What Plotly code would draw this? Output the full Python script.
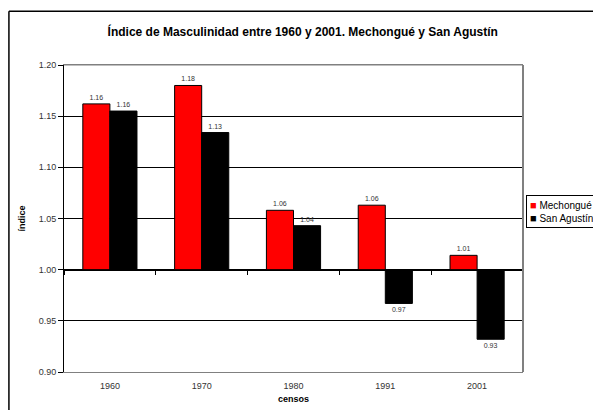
import plotly.graph_objects as go

censos = ["1960", "1970", "1980", "1991", "2001"]
mechongue = [1.162, 1.180, 1.058, 1.063, 1.014]
san_agustin = [1.155, 1.134, 1.043, 0.967, 0.932]
y_ticks = [0.90, 0.95, 1.00, 1.05, 1.10, 1.15, 1.20]
series = [("Mechongué", mechongue, "#FF0000"), ("San Agustín", san_agustin, "#000000")]

BASE = 1.0
xpos = list(range(len(censos)))
FONT = "Liberation Sans, Arial, sans-serif"

fig = go.Figure()
for name, vals, col in series:
    fig.add_trace(go.Bar(
        x=xpos, y=[v - BASE for v in vals], base=BASE, name=name,
        marker=dict(color=col, line=dict(color="#000000", width=1)),
        text=[f"{v:.2f}" for v in vals], textposition="outside",
        textfont=dict(size=7, color="#333333", family=FONT),
        cliponaxis=False, showlegend=False,
    ))

# invisible trace to carry the crossing category axis at 1.00
fig.add_trace(go.Scatter(x=[xpos[0]], y=[BASE], xaxis="x2", mode="markers",
                         marker=dict(opacity=0), showlegend=False, hoverinfo="skip"))

legend_text = "<br>".join(
    f'<span style="color:{col};font-size:11px">■</span> {name}' for name, _, col in series)

# page has an 8px body margin, so figure is 8px smaller than the window
fig.update_layout(
    width=593, height=402,
    margin=dict(l=56, r=78, t=57, b=38, autoexpand=False),
    paper_bgcolor="white", plot_bgcolor="white",
    font=dict(family=FONT, color="#000000"),
    title=dict(text="<b>Índice de Masculinidad entre 1960 y 2001. Mechongué y San Agustín</b>",
               x=0.497, xanchor="center", y=0.94, yanchor="middle",
               font=dict(size=12, color="#000000")),
    barmode="group", bargap=0.41, bargroupgap=0,
    showlegend=False,
    xaxis=dict(range=[-0.5, len(censos) - 0.5], tickmode="array", tickvals=xpos,
               ticktext=censos, showgrid=False, zeroline=False,
               showline=True, linecolor="#808080", linewidth=1, mirror=True,
               ticks="outside", ticklen=5, tickcolor="rgba(0,0,0,0)",
               tickfont=dict(size=9, color="#333333"),
               title=dict(text="<b>censos</b>", font=dict(size=9), standoff=5)),
    xaxis2=dict(overlaying="x", anchor="free", position=(BASE - 0.9) / 0.3,
                range=[-0.5, len(censos) - 0.5], tickmode="array",
                tickvals=[i + 0.5 for i in range(-1, len(censos))],
                showticklabels=False, ticks="outside", ticklen=4, tickcolor="#000000",
                showline=True, linecolor="#000000", linewidth=1,
                showgrid=False, zeroline=False, side="bottom"),
    yaxis=dict(range=[0.9, 1.2], tickmode="array", tickvals=y_ticks,
               ticktext=[f"{v:.2f}" for v in y_ticks],
               showgrid=True, gridcolor="#000000", gridwidth=1, zeroline=False,
               showline=True, linecolor="#000000", linewidth=1,
               ticks="outside", ticklen=5, tickcolor="#000000",
               tickfont=dict(size=9, color="#333333"),
               title=dict(text="<b>índice</b>", font=dict(size=9), standoff=11)),
    annotations=[dict(text=legend_text, xref="paper", yref="paper",
                      x=1.0065, y=0.577, xanchor="left", yanchor="top",
                      align="left", showarrow=False, bgcolor="white",
                      bordercolor="#000000", borderwidth=1, borderpad=3,
                      font=dict(size=10, color="#000000"))],
)

# right/top plot border in gray
fig.add_shape(type="line", xref="paper", yref="paper", x0=0, x1=1, y0=1, y1=1,
              line=dict(color="#808080", width=1))
fig.add_shape(type="line", xref="paper", yref="paper", x0=1, x1=1, y0=0, y1=1,
              line=dict(color="#808080", width=2))
# outer chart frame
fig.add_shape(type="line", xref="paper", yref="paper", x0=-0.12, x1=-0.12,
              y0=-0.2, y1=1.175, line=dict(color="#000000", width=1.5))
fig.add_shape(type="line", xref="paper", yref="paper", x0=-0.12, x1=1.2,
              y0=1.175, y1=1.175, line=dict(color="#000000", width=1.5))

fig.write_html("out.html")
